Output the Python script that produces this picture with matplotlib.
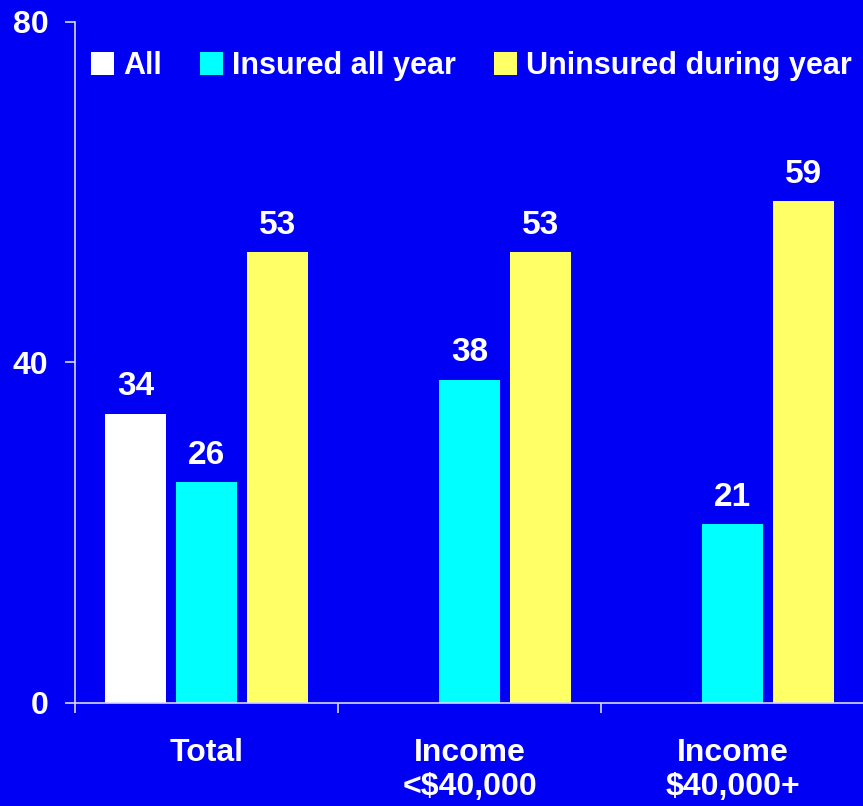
import numpy as np
import matplotlib
matplotlib.use('Agg')
import matplotlib.pyplot as plt

plt.rcParams['font.family'] = ['Liberation Sans', 'DejaVu Sans']
plt.rcParams['font.weight'] = 'bold'

BG = '#0000F5'
AXIS = '#D8D8FF'

categories = ['Total', 'Income\n<$40,000', 'Income\n$40,000+']
series_names = ['All', 'Insured all year', 'Uninsured during year']
all_vals = [34, np.nan, np.nan]
insured_vals = [26, 38, 21]
uninsured_vals = [53, 53, 59]
colors = ['#FFFFFF', '#00FFFF', '#FFFF66']

fig = plt.figure(figsize=(8.63, 8.06), dpi=100, facecolor=BG)
ax = fig.add_axes([75 / 863, 1 - 703 / 806, 789 / 863, 681 / 806])
ax.set_facecolor(BG)

x = np.arange(len(categories))
offsets = [-0.27, 0.0, 0.27]
width = 0.232

for vals, off, col, name in zip([all_vals, insured_vals, uninsured_vals],
                                offsets, colors, series_names):
    bars = ax.bar(x + off, vals, width, color=col, label=name)
    for b, v in zip(bars, vals):
        if np.isnan(v):
            continue
        ax.annotate(f'{v:g}', (b.get_x() + b.get_width() / 2, v),
                    xytext=(0, 8), textcoords='offset points',
                    ha='center', va='bottom', color='white',
                    fontsize=24, fontweight='bold')

ax.set_xlim(-0.5, 2.5)
ax.set_ylim(0, 80)
ax.set_yticks([0, 40, 80])
ax.set_xticks(x)
ax.set_xticklabels(categories, color='white', fontsize=23, fontweight='bold',
                   linespacing=1.2)
ax.tick_params(axis='x', length=0, pad=25)
ax.set_xticks([-0.5, 0.5, 1.5, 2.5], minor=True)
ax.tick_params(axis='x', which='minor', length=7, color=AXIS, width=1.2,
               direction='out')
ax.tick_params(axis='y', length=7, color=AXIS, width=1.2, direction='out',
               labelcolor='white', labelsize=23, pad=12)
for lab in ax.get_yticklabels():
    lab.set_fontweight('bold')

for side in ['top', 'right']:
    ax.spines[side].set_visible(False)
for side in ['left', 'bottom']:
    ax.spines[side].set_color(AXIS)
    ax.spines[side].set_linewidth(1.2)

leg = ax.legend(loc='upper left', bbox_to_anchor=(0.005, 0.975), ncol=3,
                frameon=False, fontsize=22, handlelength=0.75,
                handleheight=0.75, handletextpad=0.3, columnspacing=1.25,
                borderaxespad=0)
for t in leg.get_texts():
    t.set_color('white')
    t.set_fontweight('bold')

fig.savefig('out.png', dpi=100, facecolor=BG)
